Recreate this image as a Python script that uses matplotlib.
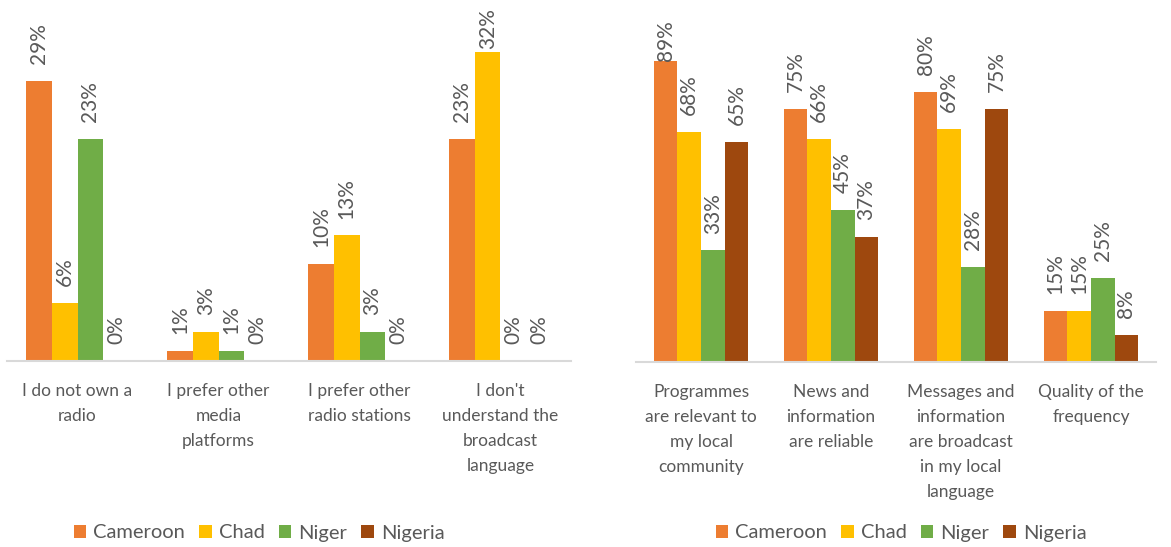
import matplotlib
matplotlib.use("Agg")
import matplotlib.pyplot as plt
from matplotlib.patches import Patch

plt.rcParams['font.family'] = ['Lato', 'DejaVu Sans']

# ---- data -------------------------------------------------------------
countries = ["Cameroon", "Chad", "Niger", "Nigeria"]
colors = ["#ED7D31", "#FFC000", "#70AD47", "#9E480E"]

reasons_no = ["I do not own a\nradio", "I prefer other\nmedia\nplatforms",
              "I prefer other\nradio stations",
              "I don't\nunderstand the\nbroadcast\nlanguage"]
no_cameroon = [29, 1, 10, 23]
no_chad = [6, 3, 13, 32]
no_niger = [23, 1, 3, 0]
no_nigeria = [0, 0, 0, 0]

reasons_yes = ["Programmes\nare relevant to\nmy local\ncommunity",
               "News and\ninformation\nare reliable",
               "Messages and\ninformation\nare broadcast\nin my local\nlanguage",
               "Quality of the\nfrequency"]
yes_cameroon = [89, 75, 80, 15]
yes_chad = [68, 66, 69, 15]
yes_niger = [33, 45, 28, 25]
yes_nigeria = [65, 37, 75, 8]

TEXT = "#595959"
W, H, DPI = 1171, 547, 100

fig = plt.figure(figsize=(W / DPI, H / DPI), dpi=DPI)


def px_axes(x0, x1, ybase, ytop):
    return fig.add_axes([x0 / W, (H - ybase) / H, (x1 - x0) / W, (ybase - ytop) / H])


ax_l = px_axes(7, 571, 361, 23)
ax_r = px_axes(636, 1156, 362, 24)

bar_w = 0.182


def draw_panel(ax, cats, series, ymax, label_top_px, legend_cx):
    n = len(series)
    all_bars = []
    for i, (vals, col) in enumerate(zip(series, colors)):
        xs = [k + (i - (n - 1) / 2) * bar_w for k in range(len(cats))]
        bars = ax.bar(xs, vals, width=bar_w, color=col, edgecolor="none",
                      linewidth=0, zorder=2)
        all_bars.append(bars)
    ax.set_xlim(-0.5, len(cats) - 0.5)
    ax.set_ylim(0, ymax)
    ax.set_yticks([])
    for s in ("left", "right", "top"):
        ax.spines[s].set_visible(False)
    ax.spines["bottom"].set_color("#D9D9D9")
    ax.spines["bottom"].set_linewidth(1.5)
    ax.set_xticks(range(len(cats)))
    ax.set_xticklabels(cats, fontsize=12.5, color=TEXT, linespacing=1.68,
                       va="top")
    ax.tick_params(axis="x", length=0, pad=16)

    # value labels, kept inside the chart area at the top
    fig.canvas.draw()
    r = fig.canvas.get_renderer()
    gap = 12.2
    limit = H - label_top_px
    for bars in all_bars:
        for rect in bars:
            v = rect.get_height()
            x = rect.get_x() + rect.get_width() / 2
            t = ax.annotate(f"{v:.0f}%", xy=(x, v), xytext=(0, gap),
                            textcoords="offset points", rotation=90,
                            ha="center", va="bottom", fontsize=15,
                            color=TEXT)
            bb = t.get_window_extent(r)
            if bb.y1 > limit:
                shift = (bb.y1 - limit) * 72 / DPI
                t.xyann = (0, gap - shift)

    handles = [Patch(facecolor=c, edgecolor="none") for c in colors]
    fig.legend(handles, countries, loc="center",
               bbox_to_anchor=(legend_cx / W, (H - 533) / H),
               ncol=4, frameon=False, fontsize=14.5, labelcolor=TEXT,
               handlelength=0.62, handleheight=0.62, handletextpad=0.35,
               columnspacing=0.7, borderpad=0)


draw_panel(ax_l, reasons_no, [no_cameroon, no_chad, no_niger, no_nigeria],
           35, 8, 259)
draw_panel(ax_r, reasons_yes, [yes_cameroon, yes_chad, yes_niger, yes_nigeria],
           100, 20, 901)

fig.savefig("out.png", dpi=DPI, facecolor="white")
